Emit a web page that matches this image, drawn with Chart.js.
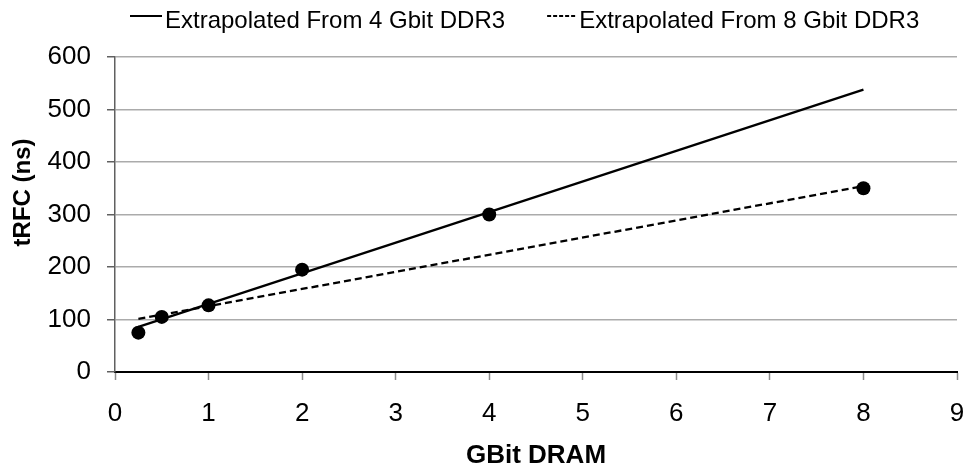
<!DOCTYPE html>
<html>
<head>
<meta charset="utf-8">
<script src="https://cdn.jsdelivr.net/npm/chart.js@4.4.1/dist/chart.umd.min.js"></script>
<style>
  html, body { margin: 0; padding: 0; background: #ffffff; }
  #c { display: block; }
</style>
</head>
<body>
<canvas id="c" width="966" height="471"></canvas>
<script>
// ---- data ----
const densities = [0.25, 0.5, 1, 2, 4, 8];          // GBit DRAM
const measuredTRFC = [75, 105, 127, 195, 300, 350];  // tRFC (ns)
const fitX = [0.25, 8];
const fitFrom4Gb = [86, 538];
const fitFrom8Gb = [101, 354];
const seriesLabels = ['Extrapolated From 4 Gbit DDR3', 'Extrapolated From 8 Gbit DDR3'];
const xTickValues = [0, 1, 2, 3, 4, 5, 6, 7, 8, 9];
const yTickValues = [0, 100, 200, 300, 400, 500, 600];
const xTitle = 'GBit DRAM';
const yTitle = 'tRFC (ns)';

const FONT = '"Liberation Sans", Arial, Helvetica, sans-serif';

const toPoints = (xs, ys) => xs.map((x, i) => ({ x: x, y: ys[i] }));

// legend and y-axis title drawn to match the reference's placement
const refDecor = {
  id: 'refDecor',
  afterDraw(chart) {
    const ctx = chart.ctx;
    const items = [
      { ds: 1, len: 32, dash: [] },
      { ds: 2, len: 29, dash: [4, 2] }
    ];
    ctx.save();
    ctx.font = '24px ' + FONT;
    ctx.textBaseline = 'middle';
    ctx.textAlign = 'left';
    let x = 130;
    const lineY = 16;
    const textY = 21;
    items.forEach((it) => {
      const ds = chart.data.datasets[it.ds];
      ctx.beginPath();
      ctx.setLineDash(it.dash);
      ctx.lineWidth = 2;
      ctx.strokeStyle = ds.borderColor;
      ctx.moveTo(x, lineY);
      ctx.lineTo(x + it.len, lineY);
      ctx.stroke();
      ctx.setLineDash([]);
      const tx = x + it.len + 3;
      ctx.fillStyle = '#000';
      ctx.fillText(ds.label, tx, textY);
      x = tx + ctx.measureText(ds.label).width + 42;
    });
    ctx.restore();

    // y-axis title
    const area = chart.chartArea;
    ctx.save();
    ctx.translate(23.5, area.top + (area.bottom - area.top) * 0.43);
    ctx.rotate(-Math.PI / 2);
    ctx.font = 'bold 24px ' + FONT;
    ctx.fillStyle = '#000';
    ctx.textAlign = 'center';
    ctx.textBaseline = 'middle';
    ctx.fillText(yTitle, 0, 0);
    ctx.restore();
  }
};

new Chart(document.getElementById('c'), {
  type: 'scatter',
  data: {
    datasets: [
      {
        label: 'Measured',
        data: toPoints(densities, measuredTRFC),
        showLine: false,
        pointRadius: 7,
        pointHoverRadius: 7,
        backgroundColor: '#000',
        borderColor: '#000',
        borderWidth: 0
      },
      {
        label: seriesLabels[0],
        data: toPoints(fitX, fitFrom4Gb),
        showLine: true,
        borderColor: '#000',
        borderWidth: 2.3,
        pointRadius: 0,
        fill: false
      },
      {
        label: seriesLabels[1],
        data: toPoints(fitX, fitFrom8Gb),
        showLine: true,
        borderColor: '#000',
        borderWidth: 2.3,
        borderDash: [7, 4],
        pointRadius: 0,
        fill: false
      }
    ]
  },
  options: {
    responsive: false,
    animation: false,
    devicePixelRatio: 1,
    layout: { padding: { left: 0, right: 0, top: 0, bottom: 0 } },
    plugins: {
      legend: { display: false },
      tooltip: { enabled: false },
      title: {
        display: true,
        text: '',
        font: { size: 10, family: FONT },
        padding: { top: 45, bottom: 0 }
      }
    },
    scales: {
      x: {
        type: 'linear',
        min: 0,
        max: 9,
        afterBuildTicks: (s) => { s.ticks = xTickValues.map(v => ({ value: v })); },
        afterFit: (s) => { s.height = 99; s.paddingRight = 9; },
        ticks: {
          font: { size: 26, family: FONT },
          color: '#000',
          padding: 18,
          maxRotation: 0,
          autoSkip: false
        },
        grid: {
          drawOnChartArea: false,
          drawTicks: true,
          tickLength: 8,
          tickColor: '#8c8c8c',
          tickWidth: 1.5
        },
        border: { display: true, color: '#000', width: 2 },
        title: {
          display: true,
          text: xTitle,
          font: { size: 26, weight: 'bold', family: FONT },
          color: '#000',
          padding: { top: 0, bottom: 0 }
        }
      },
      y: {
        type: 'linear',
        min: 0,
        max: 600,
        afterBuildTicks: (s) => { s.ticks = yTickValues.map(v => ({ value: v })); },
        afterFit: (s) => { s.width = 115; },
        ticks: {
          font: { size: 26, family: FONT },
          color: '#000',
          padding: 16
        },
        grid: {
          drawOnChartArea: true,
          drawTicks: true,
          tickLength: 8,
          color: '#ababab',
          lineWidth: 1.5,
          tickColor: '#606060',
          tickWidth: 1.5
        },
        border: { display: true, color: '#606060', width: 1.5 },
        title: { display: false }
      }
    }
  },
  plugins: [refDecor]
});
</script>
</body>
</html>
